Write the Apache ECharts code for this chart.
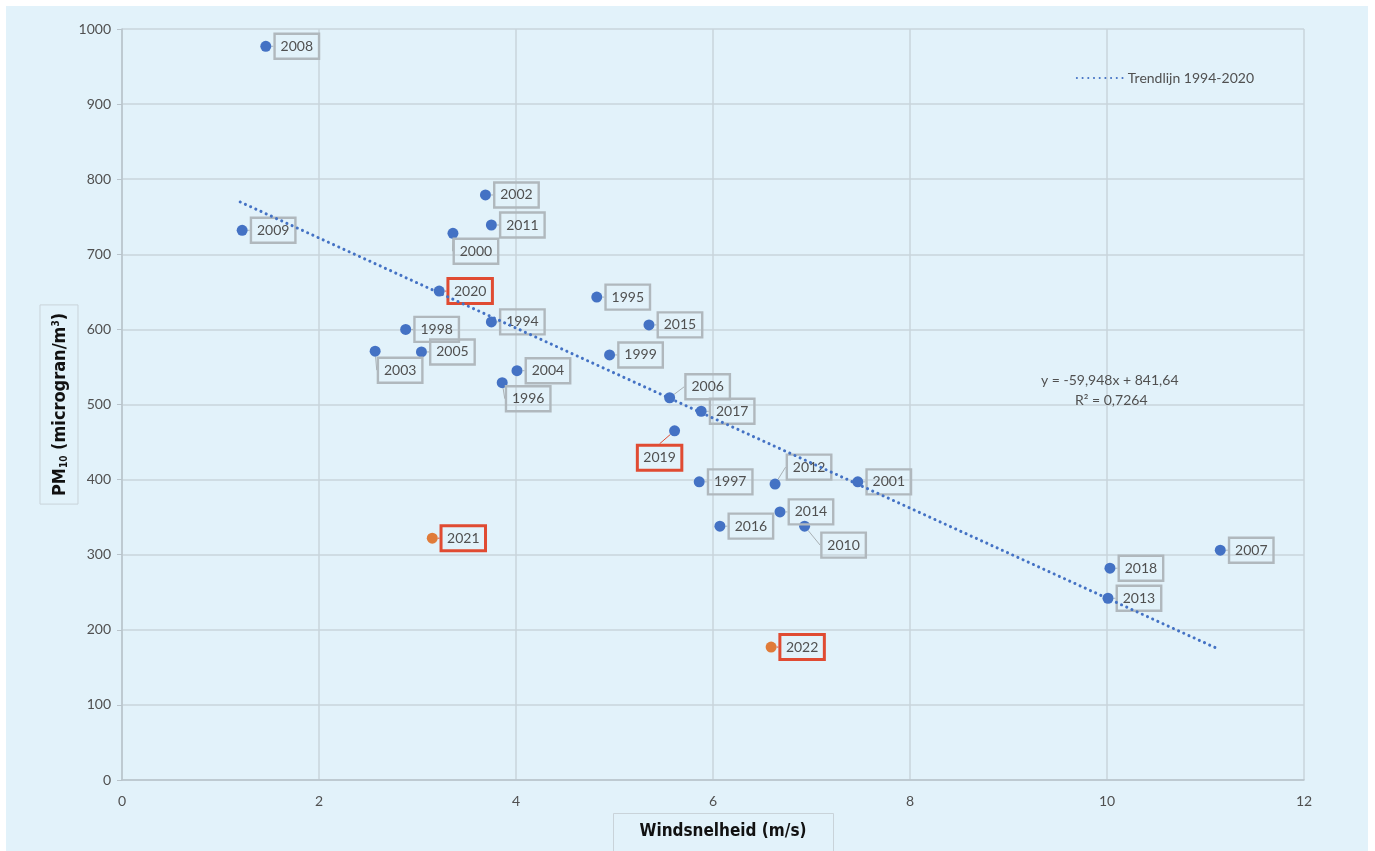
<!DOCTYPE html>
<html>
<head>
<meta charset="utf-8">
<script src="https://cdn.jsdelivr.net/npm/echarts@6/dist/echarts.min.js"></script>
<style>
  html, body { margin: 0; padding: 0; background: #ffffff; }
  #chart { width: 1375px; height: 851px; }
</style>
</head>
<body>
<div id="chart"></div>
<script>
// Jaarwaarden: windsnelheid (m/s) en PM10 (microgram/m3)
const years = [1994, 1995, 1996, 1997, 1998, 1999, 2000, 2001, 2002, 2003, 2004,
               2005, 2006, 2007, 2008, 2009, 2010, 2011, 2012, 2013, 2014, 2015,
               2016, 2017, 2018, 2019, 2020, 2021, 2022];
const windSpeed = [3.75, 4.82, 3.86, 5.86, 2.88, 4.95, 3.36, 7.47, 3.69, 2.57, 4.01,
                   3.04, 5.56, 11.15, 1.46, 1.22, 6.93, 3.75, 6.63, 10.01, 6.68, 5.35,
                   6.07, 5.88, 10.03, 5.61, 3.22, 3.15, 6.59];
const pm10 = [610, 643, 529, 397, 600, 566, 728, 397, 779, 571, 545,
              570, 509, 306, 977, 732, 338, 739, 394, 242, 357, 606,
              338, 491, 282, 465, 651, 322, 177];

// Trendlijn 1994-2020
const trendSlope = -59.948;
const trendIntercept = 841.64;
const trendRange = [1.2, 11.1];
const trendText = ['y = -59,948x + 841,64', 'R\u00b2 = 0,7264'];

// Jaren met een rood kader; jaren met een oranje punt
const framedYears = [2019, 2020, 2021, 2022];
const orangeYears = [2021, 2022];

// Verschuiving van labels die niet rechts naast hun punt staan (px)
const labelShift = {
  2000: [23, 18], 2003: [25, 19], 1996: [26, 16], 2006: [38, -11],
  2019: [-15, 27], 2012: [34, -17], 2010: [39, 19]
};
const defaultShift = [31, 0];

const xTitle = 'Windsnelheid (m/s)';

const blue = '#4472c4';
const orange = '#e07b39';
const red = '#e04b32';
const textGrey = '#505050';
const titleFont = "'DejaVu Sans Condensed', Roboto, sans-serif";

const points = years.map((yr, i) => {
  const framed = framedYears.includes(yr);
  return {
    value: [windSpeed[i], pm10[i]],
    name: String(yr),
    itemStyle: { color: orangeYears.includes(yr) ? orange : blue },
    label: { borderColor: framed ? red : '#b0b8bd', borderWidth: framed ? 1.5 : 1.2 },
    labelLine: { lineStyle: { color: framed ? red : '#a9b0b4' } }
  };
});

const trend = trendRange.map(x => [x, trendSlope * x + trendIntercept]);

const chart = echarts.init(document.getElementById('chart'));
chart.setOption({
  animation: false,
  backgroundColor: '#ffffff',
  graphic: [
    { type: 'rect', z: -10, silent: true,
      shape: { x: 6, y: 6, width: 1362, height: 845 },
      style: { fill: '#e2f2fa' } },
    // titel van de x-as in een kader
    { type: 'rect', z: 5, silent: true,
      shape: { x: 613.5, y: 813.5, width: 220, height: 50 },
      style: { fill: 'none', stroke: '#c9d3d9', lineWidth: 1 } },
    { type: 'text', z: 6, x: 723, y: 832,
      style: { text: xTitle, font: "bold 17px " + titleFont, fill: '#111111',
               align: 'center', verticalAlign: 'middle' } },
    { type: 'text', z: 10, left: 1041, top: 373,
      style: { text: trendText[0], font: '14px Lato', fill: textGrey } },
    { type: 'text', z: 10, left: 1075, top: 393,
      style: { text: trendText[1], font: '14px Lato', fill: textGrey } }
  ],
  grid: { left: 122, right: 71, top: 29, bottom: 71, containLabel: false, outerBoundsMode: 'none' },
  legend: {
    data: ['Trendlijn 1994-2020'],
    right: 116, top: 66,
    itemWidth: 46, itemHeight: 10,
    itemStyle: { opacity: 0 },
    textStyle: { color: textGrey, fontFamily: 'Lato', fontSize: 14 }
  },
  xAxis: {
    type: 'value', min: 0, max: 12, interval: 2,
    axisLine: { show: true, lineStyle: { color: '#b9c4cb', width: 1.5 } },
    axisTick: { show: false },
    axisLabel: { color: textGrey, fontFamily: 'Lato', fontSize: 14, margin: 14 },
    splitLine: { lineStyle: { color: '#c8d4db', width: 1.5 } }
  },
  yAxis: {
    type: 'value', min: 0, max: 1000, interval: 100,
    axisLine: { show: true, lineStyle: { color: '#b9c4cb', width: 1.5 } },
    axisTick: { show: true, length: 5, lineStyle: { color: '#b9c4cb' } },
    axisLabel: { color: textGrey, fontFamily: 'Lato', fontSize: 14, margin: 11,
                 formatter: v => String(v) },
    splitLine: { lineStyle: { color: '#c8d4db', width: 1.5 } },
    name: 'PM{sub|10} (microgran/m{sup|3})',
    nameLocation: 'middle', nameGap: 44, nameRotate: 90,
    nameMoveOverlap: false,
    nameTextStyle: {
      fontFamily: titleFont, fontWeight: 'bold', fontSize: 18,
      color: '#111111', borderColor: '#c9d3d9', borderWidth: 1,
      padding: [11, 8, 9, 8],
      rich: {
        sub: { fontFamily: titleFont, fontWeight: 'bold', fontSize: 10,
               color: '#111111', verticalAlign: 'bottom', padding: [8, 0, 0, 0] },
        sup: { fontFamily: titleFont, fontWeight: 'bold', fontSize: 10,
               color: '#111111', verticalAlign: 'top', padding: [0, 0, 8, 0] }
      }
    }
  },
  series: [
    {
      name: 'Trendlijn 1994-2020',
      type: 'line',
      data: trend,
      showSymbol: false,
      symbol: 'none',
      z: 3,
      lineStyle: { color: blue, width: 3, type: [0.1, 5.6], cap: 'round' },
      itemStyle: { color: blue }
    },
    {
      name: 'PM10',
      type: 'scatter',
      data: points,
      symbolSize: 11,
      z: 2,
      itemStyle: { opacity: 1 },
      label: {
        show: true,
        position: 'inside',
        formatter: p => p.name,
        color: textGrey,
        fontFamily: 'Lato',
        fontSize: 14,
        lineHeight: 16,
        padding: [5, 6, 4, 6],
        backgroundColor: 'transparent'
      },
      labelLine: { show: true, lineStyle: { width: 1 } },
      labelLayout: params => {
        const s = labelShift[years[params.dataIndex]] || defaultShift;
        return { dx: s[0], dy: s[1] };
      }
    }
  ]
});
</script>
</body>
</html>
